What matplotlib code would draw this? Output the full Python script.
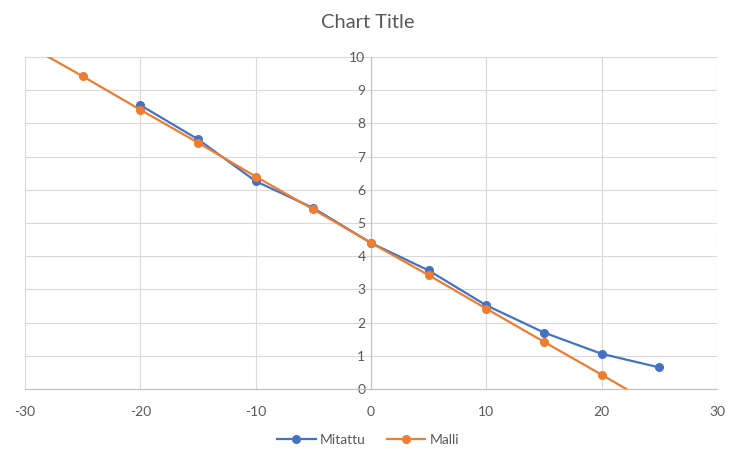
import numpy as np
import matplotlib.pyplot as plt

plt.rcParams['font.family'] = ['Lato', 'DejaVu Sans']
plt.rcParams['axes.unicode_minus'] = False

# data
x_mitattu = [-20, -15, -10, -5, 0, 5, 10, 15, 20, 25]
y_mitattu = [8.55, 7.52, 6.26, 5.45, 4.40, 3.57, 2.52, 1.70, 1.06, 0.65]

x_malli = [-30, -25, -20, -15, -10, -5, 0, 5, 10, 15, 20, 25]
y_malli = [10.40, 9.42, 8.41, 7.42, 6.40, 5.41, 4.40, 3.43, 2.42, 1.42, 0.43, -0.58]

x_ticks = [-30, -20, -10, 0, 10, 20, 30]
y_ticks = list(range(0, 11))

blue = '#4472C4'
orange = '#ED7D31'
text_col = '#595959'

fig = plt.figure(figsize=(7.36, 4.58), dpi=100)
ax = fig.add_axes([25 / 736, 1 - 389 / 458, 692 / 736, 332 / 458])

ax.plot(x_mitattu, y_mitattu, color=blue, lw=1.6, marker='o', ms=5.5, label='Mitattu', zorder=3)
ax.plot(x_malli, y_malli, color=orange, lw=1.6, marker='o', ms=5.5, label='Malli', zorder=4)

ax.set_xlim(-30, 30)
ax.set_ylim(0, 10)
ax.set_xticks(x_ticks)
ax.set_yticks(y_ticks)
ax.grid(True, color='#d9d9d9', lw=0.8, zorder=0)
ax.set_axisbelow(True)

for s in ['top', 'right']:
    ax.spines[s].set_visible(False)
ax.spines['left'].set_position(('data', 0))
ax.spines['left'].set_color('#bfbfbf')
ax.spines['bottom'].set_color('#bfbfbf')
ax.spines['left'].set_zorder(1)

ax.tick_params(axis='both', length=0, labelsize=10, labelcolor=text_col)
ax.tick_params(axis='x', pad=12)
ax.tick_params(axis='y', pad=4)

fig.text(0.5, 1 - 23 / 458, 'Chart Title', ha='center', va='center', fontsize=14.5, color=text_col)

leg = fig.legend(loc='center', bbox_to_anchor=(0.5, 1 - 440 / 458), ncol=2, frameon=False,
                 fontsize=10, handlelength=2.8, columnspacing=1.5, handletextpad=0.3)
for t in leg.get_texts():
    t.set_color(text_col)

fig.savefig('out.png', dpi=100)
